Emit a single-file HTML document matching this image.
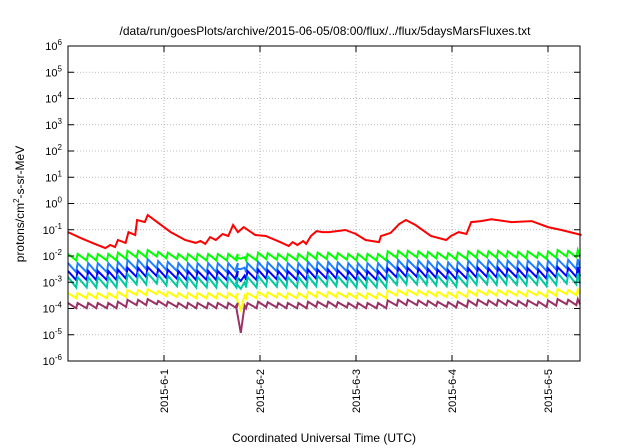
<!DOCTYPE html>
<html><head><meta charset="utf-8"><style>
body{margin:0;background:#fff;}
svg{display:block;font-family:"Liberation Sans",sans-serif;}
</style></head><body>
<svg id="chart" width="640" height="448" viewBox="0 0 640 448" xmlns="http://www.w3.org/2000/svg">
<rect width="640" height="448" fill="#fff"/>
<text x="325" y="35" font-size="12" text-anchor="middle">/data/run/goesPlots/archive/2015-06-05/08:00/flux/../flux/5daysMarsFluxes.txt</text>
<text transform="translate(24,204) rotate(-90)" font-size="12" text-anchor="middle">protons/cm<tspan font-size="8" dy="-5">2</tspan><tspan dy="5">-s-sr-MeV</tspan></text>
<text x="324" y="442" font-size="12" text-anchor="middle">Coordinated Universal Time (UTC)</text>
<g id="grid"></g><g id="series"></g><g id="axes"></g>
</svg>
<script>
const yTicks = [-6,-5,-4,-3,-2,-1,0,1,2,3,4,5,6];
const dayTicks = [1,2,3,4,5];
const dayLabels = ["2015-6-1","2015-6-2","2015-6-3","2015-6-4","2015-6-5"];
const redT = [0,.13,.28,.39,.44,.49,.52,.60,.63,.70,.72,.80,.83,1.07,1.22,1.33,1.38,1.43,1.48,1.54,1.61,1.67,1.72,1.77,1.83,1.95,2.06,2.21,2.30,2.34,2.39,2.45,2.48,2.53,2.59,2.65,2.72,2.89,3.00,3.10,3.24,3.26,3.36,3.45,3.52,3.62,3.78,3.94,3.99,4.07,4.15,4.20,4.30,4.41,4.62,4.83,5.00,5.14,5.35];
const redV = [-1.09,-1.31,-1.54,-1.70,-1.58,-1.66,-1.39,-1.50,-1.09,-1.20,-0.63,-0.71,-0.44,-1.09,-1.39,-1.50,-1.43,-1.54,-1.28,-1.39,-1.16,-1.24,-0.82,-1.09,-0.90,-1.20,-1.24,-1.47,-1.62,-1.47,-1.58,-1.43,-1.54,-1.24,-1.05,-1.09,-1.09,-1.01,-1.16,-1.39,-1.47,-1.24,-1.12,-0.78,-0.63,-0.82,-1.24,-1.39,-1.24,-1.09,-1.16,-0.71,-0.67,-0.60,-0.71,-0.67,-0.90,-1.01,-1.20];
const spikeT = [0.00,0.10,0.21,0.31,0.42,0.52,0.62,0.73,0.83,0.94,1.04,1.15,1.25,1.35,1.46,1.56,1.67,1.77,1.87,1.98,2.08,2.19,2.29,2.40,2.50,2.60,2.71,2.81,2.92,3.02,3.12,3.23,3.33,3.44,3.54,3.65,3.75,3.85,3.96,4.06,4.17,4.27,4.38,4.48,4.58,4.69,4.79,4.90,5.00,5.10,5.21,5.31];
const spikeMod = [0,0,0,0,0,0.05,0.12,0.12,0.15,0.08,0.05,0,0,0,0,0,0,0,0,0.05,0.03,0,0,0,0.05,0.05,0.05,0.03,0,0,0,0,0.1,0.12,0.12,0.1,0.08,0.05,0.03,0.05,0.1,0.12,0.1,0.12,0.1,0.08,0.1,0.05,0.1,0.15,0.12,0.15];
const seriesNames = ["green","dodger","blue","teal","yellow","purple"];
const seriesColors = ["#00ff00","#1f7fff","#0000ff","#00c8a0","#ffff00","#993366"];
const seriesPeak = [-1.92,-2.27,-2.57,-2.80,-3.41,-3.79];
const seriesDrop = [0.25,0.35,0.35,0.40,0.20,0.20];
const dipT = 1.80;
const dipV = [-2.1,-2.5,-2.95,-3.25,-4.05,-4.93];

const X0=68,X1=580,Y0=46,Y1=361,TMAX=5.3333;
const x = t => X0 + t*(X1-X0)/TMAX;
const y = lv => Y0 + (6-lv)*(Y1-Y0)/12;
const NS="http://www.w3.org/2000/svg";
function mk(tag, parent){const e=document.createElementNS(NS,tag);parent.appendChild(e);return e;}
const grid=document.getElementById('grid'), axes=document.getElementById('axes'), ser=document.getElementById('series');

yTicks.forEach(v=>{
  if(v>-6&&v<6){const l=mk('line',grid);
  
  
  l.setAttribute('x1',X0);l.setAttribute('x2',X1);l.setAttribute('y1',y(v));l.setAttribute('y2',y(v));
  l.setAttribute('stroke','#aaa');l.setAttribute('stroke-width','0.8');l.setAttribute('stroke-dasharray','1,2');}
  const tk=mk('path',axes);
  
  
  tk.setAttribute('d',`M${X0} ${y(v)}h6M${X1} ${y(v)}h-6`);tk.setAttribute('stroke','#000');
  const tx=mk('text',axes);
  
  
  tx.setAttribute('x',X0-6);tx.setAttribute('y',y(v)+4);tx.setAttribute('text-anchor','end');tx.setAttribute('font-size','11');
  tx.innerHTML='10<tspan font-size="8" dy="-5">'+v+'</tspan>';
});
dayTicks.forEach((d,i)=>{
  const l=mk('line',grid);
  
  
  l.setAttribute('x1',x(d));l.setAttribute('x2',x(d));l.setAttribute('y1',Y0);l.setAttribute('y2',Y1);
  l.setAttribute('stroke','#aaa');l.setAttribute('stroke-width','0.8');l.setAttribute('stroke-dasharray','1,2');
  const tk=mk('path',axes);
  
  
  tk.setAttribute('d',`M${x(d)} ${Y1}v-6M${x(d)} ${Y0}v6`);tk.setAttribute('stroke','#000');
  const tx=mk('text',axes);
  
  
  tx.setAttribute('transform',`translate(${x(d)+4},${Y1+8}) rotate(-90)`);
  tx.setAttribute('text-anchor','end');tx.setAttribute('font-size','11');
  tx.textContent=dayLabels[i];
});
const b=mk('rect',axes);


b.setAttribute('x',X0);b.setAttribute('y',Y0);b.setAttribute('width',X1-X0);b.setAttribute('height',Y1-Y0);
b.setAttribute('fill','none');b.setAttribute('stroke','#000');

seriesNames.forEach((nm,s)=>{
  let pts=[];
  for(let i=0;i<spikeT.length;i++){
    const pk=seriesPeak[s]+spikeMod[i];
    const tEnd = i+1<spikeT.length ? spikeT[i+1]-0.015 : TMAX;
    pts.push([spikeT[i],pk]);
    if(dipT>spikeT[i] && dipT<tEnd){
      pts.push([dipT-0.05,pk-seriesDrop[s]*0.6]);pts.push([dipT,dipV[s]]);pts.push([dipT+0.04,pk-seriesDrop[s]*0.5]);
    }
    pts.push([tEnd,pk-seriesDrop[s]]);
  }
  const p=mk('polyline',ser);
  
  
  p.setAttribute('points',pts.map(q=>x(q[0]).toFixed(1)+','+y(q[1]).toFixed(1)).join(' '));
  p.setAttribute('fill','none');p.setAttribute('stroke',seriesColors[s]);p.setAttribute('stroke-width','2');
});
const r=mk('polyline',ser);


r.setAttribute('points',redT.map((t,i)=>x(t).toFixed(1)+','+y(redV[i]).toFixed(1)).join(' '));
r.setAttribute('fill','none');r.setAttribute('stroke','#ff0000');r.setAttribute('stroke-width','2');
</script>
</body></html>
